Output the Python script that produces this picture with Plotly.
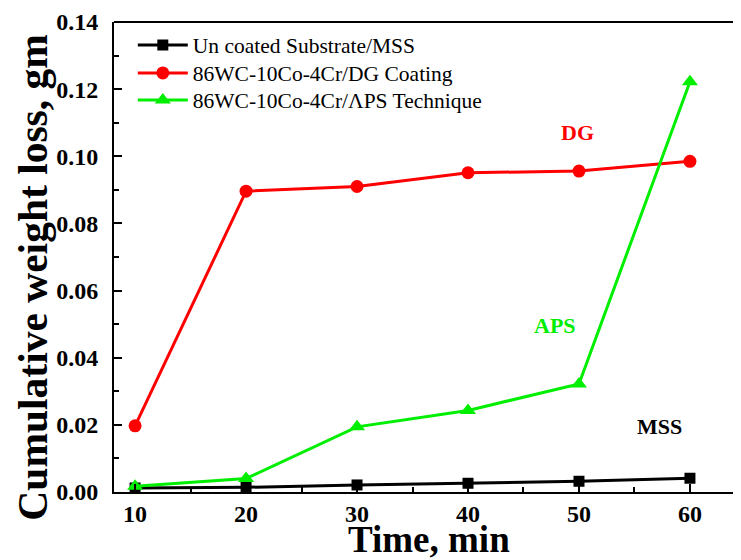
import plotly.graph_objects as go

time_min = [10, 20, 30, 40, 50, 60]
mss = [0.0012, 0.0014, 0.0021, 0.0026, 0.0032, 0.0041]
dg = [0.0197, 0.0896, 0.0910, 0.0951, 0.0956, 0.0985]
aps = [0.0017, 0.0040, 0.0194, 0.0243, 0.0322, 0.1222]

names = ["Un coated Substrate/MSS", "86WC-10Co-4Cr/DG Coating", "86WC-10Co-4Cr/\u039bPS Technique"]
colors = ["#000000", "#ff0000", "#00ee00"]
symbols = ["square", "circle", "triangle-up"]
sizes = [11, 13, 14]
legend_ids = ["legend", "legend2", "legend3"]
legend_y = [0.951, 0.8915, 0.834]

FONT = "Liberation Serif, Times New Roman, serif"

fig = go.Figure()
for ys, nm, c, s, sz, lg in zip([mss, dg, aps], names, colors, symbols, sizes, legend_ids):
    fig.add_trace(go.Scatter(x=time_min, y=ys, name=nm, mode="lines+markers",
                             line=dict(color=c, width=3), legend=lg,
                             marker=dict(color=c, symbol=s, size=sz)))

labels = [("DG", 49.9, 0.107, "#ff0000"), ("APS", 47.8, 0.0497, "#00ee00"), ("MSS", 57.3, 0.0194, "#000000")]
for t, x, y, c in labels:
    fig.add_annotation(x=x, y=y, text="<b>%s</b>" % t, showarrow=False,
                       font=dict(family=FONT, size=22, color=c))

# axis titles as annotations
fig.add_annotation(x=-0.1285, y=0.457, xref="paper", yref="paper", textangle=-90,
                   text="<b>Cumulative weight loss, gm</b>", showarrow=False,
                   xanchor="center", yanchor="middle",
                   font=dict(family=FONT, size=41.5, color="black"))
fig.add_annotation(x=0.502, y=-0.102, xref="paper", yref="paper",
                   text="<b>Time, min</b>", showarrow=False,
                   xanchor="center", yanchor="middle",
                   font=dict(family=FONT, size=37, color="black"))

legend_style = dict(x=0.03, xanchor="left", yanchor="middle",
                    font=dict(family=FONT, size=21.5, color="black"),
                    bgcolor="rgba(0,0,0,0)", itemwidth=50)

fig.update_layout(
    width=733, height=552,
    margin=dict(l=106, r=0, t=14, b=68, autoexpand=False),
    paper_bgcolor="white", plot_bgcolor="white",
    font=dict(family=FONT, color="black"),
    showlegend=True,
    legend=dict(y=legend_y[0], **legend_style),
    legend2=dict(y=legend_y[1], **legend_style),
    legend3=dict(y=legend_y[2], **legend_style),
    xaxis=dict(range=[8.1, 64.6], tickvals=[10, 20, 30, 40, 50, 60],
               ticks="inside", ticklen=8, tickwidth=1.5, tickcolor="black",
               minor=dict(tickvals=[15, 25, 35, 45, 55], ticks="inside", ticklen=5, tickcolor="black", tickwidth=1.5),
               showline=True, linecolor="black", linewidth=2, mirror=False,
               showgrid=False, zeroline=False, automargin=False,
               ticklabelstandoff=-1,
               tickfont=dict(family=FONT, size=24, color="black", weight="bold")),
    yaxis=dict(range=[0, 0.14], tickvals=[0, 0.02, 0.04, 0.06, 0.08, 0.10, 0.12, 0.14],
               tickformat=".2f",
               ticks="inside", ticklen=8, tickwidth=1.5, tickcolor="black",
               minor=dict(tickvals=[0.01, 0.03, 0.05, 0.07, 0.09, 0.11, 0.13], ticks="inside", ticklen=5, tickcolor="black", tickwidth=1.5),
               showline=True, linecolor="black", linewidth=2,
               showgrid=False, zeroline=False, automargin=False,
               ticklabelstandoff=9,
               tickfont=dict(family=FONT, size=24, color="black", weight="bold")),
)
fig.add_shape(type="line", xref="paper", yref="paper", x0=0, x1=1, y0=1, y1=1,
              line=dict(color="black", width=2))

fig.write_html("out.html")
